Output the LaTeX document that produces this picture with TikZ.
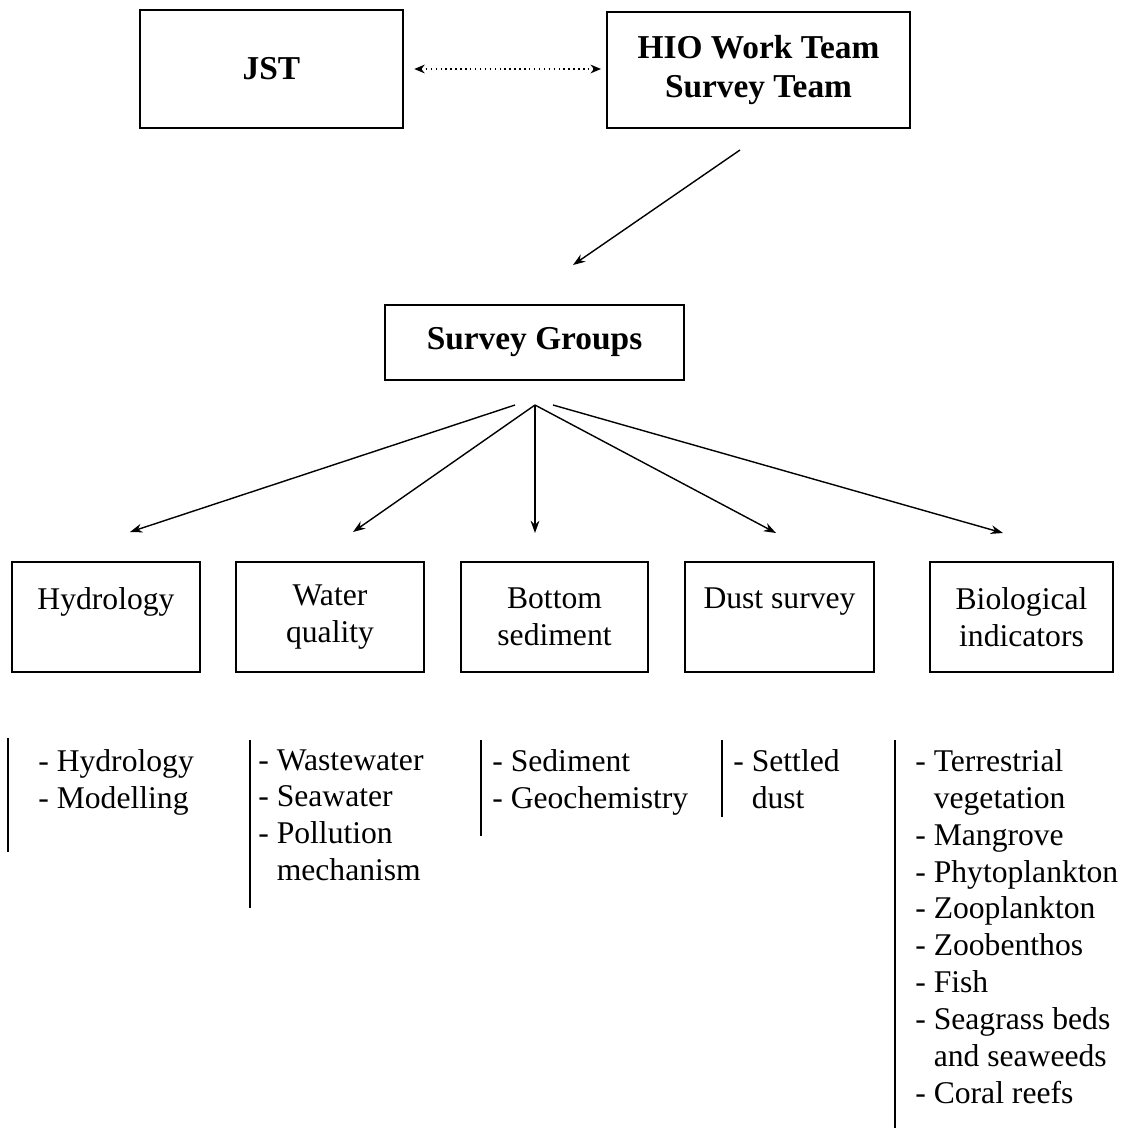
\documentclass[tikz,border=0pt]{standalone}
\usepackage{fontspec}
\setmainfont{Liberation Serif}
\usetikzlibrary{arrows.meta,calc}
\begin{document}
\begin{tikzpicture}[x=0.02cm,y=-0.02cm,
  box/.style={draw,line width=0.8pt,inner sep=0pt,align=center,font=\fontsize{18}{21}\selectfont},
  topbox/.style={box,font=\fontsize{19}{22.7}\selectfont\bfseries},
  arr/.style={line width=0.8pt,-{Stealth[length=7pt,width=5pt]}},
  dotarr/.style={line width=0.8pt,dotted,{Stealth[length=6pt,width=5pt]}-{Stealth[length=6pt,width=5pt]}},
  listtext/.style={anchor=north west,inner sep=0pt,align=left,font=\fontsize{18}{21}\selectfont},
  bar/.style={line width=1.5pt}]
\useasboundingbox (0,0) rectangle (1143,1130);

% top row
\node[topbox,minimum width=263*0.02cm,minimum height=118*0.02cm] (jst) at (271.5,69) {JST};
\node[topbox,minimum width=303*0.02cm,minimum height=116*0.02cm] (hio) at (758.5,70) {HIO Work Team\\Survey Team};
\draw[dotarr,shorten <=6pt,shorten >=3pt] (jst.east) -- (jst.east -| hio.west);

% survey groups
\node[topbox,minimum width=299*0.02cm,minimum height=75*0.02cm] (sg) at (534.5,342.5) {Survey Groups};
\coordinate (hioout) at (740,150);
\coordinate (sgin) at (573,265);
\draw[arr] (hioout) -- (sgin);

% second row
\node[box,minimum width=188*0.02cm,minimum height=110*0.02cm] (hyd) at (106,617) {Hydrology\\\mbox{}};
\node[box,minimum width=188*0.02cm,minimum height=110*0.02cm] (wq) at (330,617) {Water\\quality};
\node[box,minimum width=187*0.02cm,minimum height=110*0.02cm] (bs) at (554.5,617) {Bottom\\sediment};
\node[box,minimum width=189*0.02cm,minimum height=110*0.02cm] (ds) at (779.5,617) {Dust survey\\\mbox{}};
\node[box,minimum width=183*0.02cm,minimum height=110*0.02cm] (bi) at (1021.5,617) {Biological\\indicators};

% fan of arrows
\coordinate (fl) at (515,405);
\coordinate (fc) at (535,405);
\coordinate (fr) at (553,405);
\coordinate (thyd) at (130,532);
\coordinate (twq) at (353,532);
\coordinate (tbs) at (535,533);
\coordinate (tds) at (776,533);
\coordinate (tbi) at (1003,533);
\draw[arr] (fl) -- (thyd);
\draw[arr] (fc) -- (twq);
\draw[arr] (fc) -- (tbs);
\draw[arr] (fc) -- (tds);
\draw[arr] (fr) -- (tbi);

% lists
\node[listtext] (lhyd) at (38,749) {- Hydrology\\- Modelling};
\node[listtext] (lwq) at (258,749) {- Wastewater\\- Seawater\\- Pollution\\\phantom{- }mechanism};
\node[listtext] (lbs) at (492,749) {- Sediment\\- Geochemistry};
\node[listtext] (lds) at (733,749) {- Settled\\\phantom{- }dust};
\node[listtext] (lbi) at (915,749) {- Terrestrial\\\phantom{- }vegetation\\- Mangrove\\- Phytoplankton\\- Zooplankton\\- Zoobenthos\\- Fish\\- Seagrass beds\\\phantom{- }and seaweeds\\- Coral reefs};

% bars
\draw[bar] (8,738) -- (8,852);
\draw[bar] (250,740) -- (250,908);
\draw[bar] (481,740) -- (481,836);
\draw[bar] (722,740) -- (722,817);
\draw[bar] (895,740) -- (895,1128);
\end{tikzpicture}
\end{document}
